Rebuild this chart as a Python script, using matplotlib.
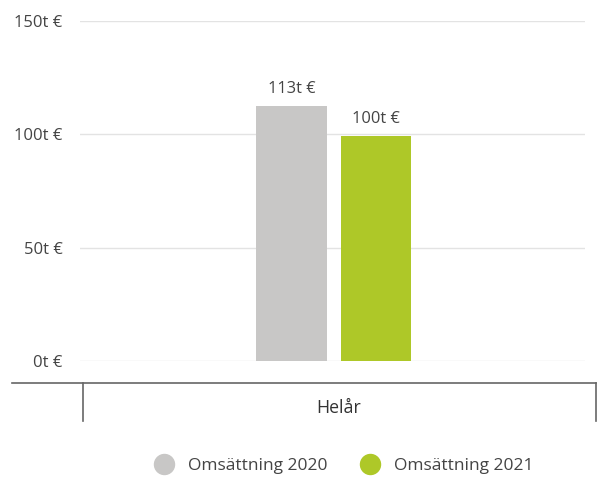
import matplotlib.pyplot as plt
from matplotlib.lines import Line2D

plt.rcParams['font.family'] = ['Open Sans', 'DejaVu Sans']

# data
category = 'Helår'
series = ['Omsättning 2020', 'Omsättning 2021']
values = [112.6, 99.4]
value_labels = ['113t €', '100t €']
colors = ['#c8c7c6', '#aec828']
yticks = [0, 50, 100, 150]
ytick_labels = ['0t €', '50t €', '100t €', '150t €']

W, H = 601, 479
fig = plt.figure(figsize=(W / 100, H / 100), dpi=100)

# main plot area in pixel terms
left, right, top, bottom = 80, 585, 21, 361
ax = fig.add_axes([left / W, 1 - bottom / H, (right - left) / W, (bottom - top) / H])

offsets = [-0.58, 0.62]
for off, v, c, lab in zip(offsets, values, colors, value_labels):
    ax.bar(off, v, width=1.01, color=c, zorder=3)
    ax.text(off, v + 4, lab, ha='center', va='bottom', fontsize=11.8, color='#444444')

ax.set_xlim(-3.6, 3.6)
ax.set_ylim(0, 150)
ax.set_yticks(yticks)
ax.set_yticklabels(ytick_labels, fontsize=12, color='#444444')
ax.tick_params(axis='y', length=0, pad=12.5)
ax.set_xticks([])
ax.grid(axis='y', color='#e3e3e3', linewidth=1)
for s in ax.spines.values():
    s.set_visible(False)

# category axis below the plot
y_ax = 1 - 383 / H
y_tick = 1 - 421 / H
fig.add_artist(Line2D([12 / W, 596 / W], [y_ax, y_ax], color='#666666', lw=1.2))
for xp in [83, 596]:
    fig.add_artist(Line2D([xp / W, xp / W], [y_ax, y_tick], color='#666666', lw=1.2))
fig.text(339 / W, 1 - 408 / H, category, ha='center', va='center', fontsize=12.8, color='#333333')

# legend
handles = [Line2D([], [], marker='o', linestyle='', markersize=14.4, color=c) for c in colors]
fig.legend(handles, series, loc='center', bbox_to_anchor=(340 / W, 1 - 466 / H),
           ncol=2, frameon=False, fontsize=12.5, labelcolor='#444444',
           handlelength=2, handletextpad=0.4, columnspacing=1.4)

fig.savefig('out.png', dpi=100)
